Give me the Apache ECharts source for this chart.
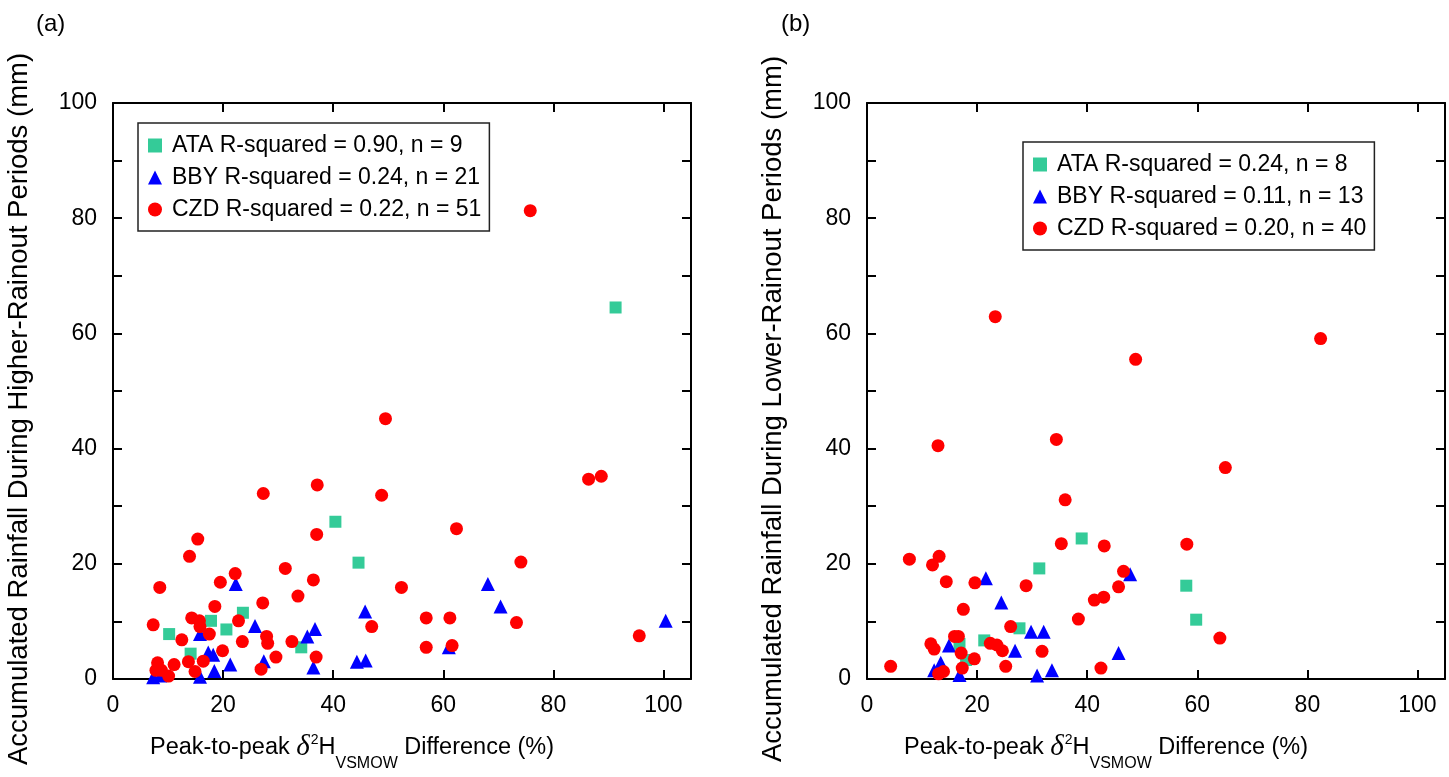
<!DOCTYPE html>
<html>
<head>
<meta charset="utf-8">
<script src="https://cdn.jsdelivr.net/npm/echarts@6/dist/echarts.min.js"></script>
<style>
  html, body { margin: 0; padding: 0; background: #fff; }
  #main { width: 1449px; height: 777px; }
</style>
</head>
<body>
<div id="main"></div>
<script>
// (a) higher-rainout periods: [peak-to-peak difference %, accumulated rainfall mm]
const ataHigher = [[40.4, 27.3], [44.6, 20.2], [23.6, 11.5], [17.8, 10.1], [20.6, 8.6], [10.2, 7.8], [14.1, 4.4], [34.2, 5.5], [91.3, 64.5]];
const bbyHigher = [[22.3, 16.5], [45.8, 11.7], [25.8, 9.2], [36.7, 8.7], [35.3, 7.4], [15.8, 7.8], [17.3, 4.6], [18.2, 4.2],
    [21.3, 2.5], [27.4, 3.1], [18.4, 1.4], [36.4, 2.0], [44.3, 3.0], [45.9, 3.2], [7.3, 0.3], [15.8, 0.4],
    [68.1, 16.5], [70.4, 12.6], [100.4, 10.1], [61.0, 5.5], [8.6, 0.6]];
const czdHigher = [[75.8, 81.3], [49.5, 45.2], [27.3, 32.2], [37.1, 33.7], [48.8, 31.9], [37.0, 25.1], [15.4, 24.3], [13.9, 21.3],
    [31.3, 19.2], [22.2, 18.3], [19.5, 16.8], [8.5, 15.9], [36.4, 17.2], [52.4, 15.9], [33.6, 14.4], [27.2, 13.2],
    [18.5, 12.6], [7.3, 9.4], [14.3, 10.6], [15.7, 10.1], [15.8, 9.1], [22.8, 10.1], [17.5, 7.8], [47.0, 9.1],
    [12.5, 6.8], [23.5, 6.5], [27.9, 7.4], [28.1, 6.2], [32.5, 6.5], [19.9, 4.9], [16.4, 3.1], [13.7, 3.0],
    [11.1, 2.5], [8.1, 2.8], [29.6, 3.8], [36.9, 3.8], [26.9, 1.7], [14.9, 1.3], [7.8, 1.5], [8.8, 1.5],
    [10.1, 0.5], [86.4, 34.7], [88.7, 35.2], [62.4, 26.1], [74.1, 20.3], [56.9, 10.6], [61.2, 10.6], [73.3, 9.8],
    [56.9, 5.5], [61.6, 5.8], [95.6, 7.5]];

// (b) lower-rainout periods
const ataLower = [[39.0, 24.4], [31.3, 19.2], [27.7, 8.8], [21.3, 6.7], [16.8, 6.1], [18.0, 3.3], [58.0, 16.2], [59.8, 10.3]];
const bbyLower = [[21.6, 17.5], [24.4, 13.3], [47.8, 18.2], [29.8, 8.2], [32.1, 8.2], [26.9, 4.9], [14.9, 5.8], [45.7, 4.5],
    [13.4, 2.8], [33.6, 1.5], [12.2, 1.5], [30.9, 0.6], [16.8, 0.7]];
const czdLower = [[23.3, 62.9], [48.8, 55.5], [12.9, 40.5], [34.4, 41.6], [36.0, 31.1], [35.3, 23.5], [7.7, 20.8], [13.1, 21.3],
    [11.9, 19.8], [43.1, 23.1], [46.6, 18.7], [14.4, 16.9], [19.6, 16.7], [28.9, 16.2], [17.5, 12.1], [41.3, 13.7],
    [43.0, 14.2], [45.7, 16.0], [38.4, 10.4], [26.1, 9.1], [15.9, 7.4], [16.6, 7.4], [11.6, 6.1], [12.2, 5.2],
    [22.4, 6.2], [23.6, 5.9], [24.6, 4.9], [31.8, 4.8], [17.1, 4.5], [19.5, 3.5], [4.3, 2.2], [25.2, 2.2],
    [17.3, 1.9], [42.5, 1.9], [13.0, 0.9], [13.9, 1.3], [82.4, 59.1], [65.1, 36.7], [58.1, 23.4], [64.1, 7.1]];

const namesHigher = ['ATA R-squared = 0.90, n = 9', 'BBY R-squared = 0.24, n = 21', 'CZD R-squared = 0.22, n = 51'];
const namesLower = ['ATA R-squared = 0.24, n = 8', 'BBY R-squared = 0.11, n = 13', 'CZD R-squared = 0.20, n = 40'];
const yNames = ['Accumulated Rainfall During Higher-Rainout Periods (mm)', 'Accumulated Rainfall During Lower-Rainout Periods (mm)'];
const xName = 'Peak-to-peak {d|δ}{sup|2}H{sub|VSMOW} Difference (%)';

const FONT = 'Liberation Sans, Arial, Helvetica, sans-serif';
const ATA_COLOR = '#34cb98';
const BBY_COLOR = '#0000ff';
const CZD_COLOR = '#ff0000';

var myChart = echarts.init(document.getElementById('main'), null, { renderer: 'canvas' });

const tick = { show: true, inside: true, length: 9, lineStyle: { color: '#000', width: 2 } };
const line = { show: true, onZero: false, lineStyle: { color: '#000', width: 2 } };

function xAxisFor(grid, top) {
    return {
        type: 'value', gridIndex: grid, position: top ? 'top' : 'bottom',
        min: 0, max: 105, interval: 20,
        axisLine: line, axisTick: tick, splitLine: { show: false },
        axisLabel: {
            show: !top, margin: 15, color: '#000', fontSize: 23, fontFamily: FONT,
            formatter: function (v) { return v % 20 === 0 ? String(v) : ''; }
        },
        name: top ? '' : xName,
        nameLocation: 'middle',
        nameGap: 44,
        nameTextStyle: {
            color: '#000', fontSize: 23.5, fontFamily: FONT, padding: [0, 100, 0, 0],
            rich: {
                d: { fontFamily: 'Liberation Serif, DejaVu Serif, serif', fontStyle: 'italic', fontSize: 29, color: '#000' },
                sup: { fontSize: 14, fontFamily: FONT, color: '#000', padding: [0, 0, 14, 1] },
                sub: { fontSize: 16, fontFamily: FONT, color: '#000', padding: [33, 0, 0, 0] }
            }
        }
    };
}

function yAxisFor(grid, right, name) {
    return {
        type: 'value', gridIndex: grid, position: right ? 'right' : 'left',
        min: 0, max: 100, interval: 20,
        axisLine: line, axisTick: tick,
        minorTick: { show: true, splitNumber: 2, length: 9, lineStyle: { color: '#000', width: 2 } },
        splitLine: { show: false }, minorSplitLine: { show: false },
        axisLabel: { show: !right, margin: 16, color: '#000', fontSize: 23, fontFamily: FONT },
        name: right ? '' : name,
        nameLocation: 'middle',
        nameGap: 80,
        nameTextStyle: { color: '#000', fontSize: 27.5, fontFamily: FONT, padding: [0, 36, 0, 0] }
    };
}

function legendFor(names, left, top) {
    return {
        data: names,
        orient: 'vertical',
        left: left, top: top,
        itemWidth: 14, itemHeight: 14, itemGap: 9,
        padding: [11, 8, 10, 10],
        borderColor: '#222', borderWidth: 1.5, borderRadius: 0,
        backgroundColor: '#fff',
        textStyle: { color: '#000', fontSize: 23, fontFamily: FONT, lineHeight: 23, padding: [0, 0, 0, 5] },
        selectedMode: false
    };
}

function scatter(name, data, xi, symbol, size, color) {
    return {
        type: 'scatter', name: name, data: data,
        xAxisIndex: xi, yAxisIndex: xi,
        symbol: symbol, symbolSize: size,
        itemStyle: { color: color, opacity: 1 },
        emphasis: { disabled: true }
    };
}

option = {
    animation: false,
    backgroundColor: '#fff',
    title: [
        { text: '(a)', left: 31, top: 7, textStyle: { color: '#000', fontSize: 24, fontWeight: 'normal', fontFamily: FONT } },
        { text: '(b)', left: 776, top: 7, textStyle: { color: '#000', fontSize: 24, fontWeight: 'normal', fontFamily: FONT } }
    ],
    grid: [
        { left: 113, top: 103, width: 578, height: 578 },
        { left: 867, top: 103, width: 578, height: 578 }
    ],
    legend: [
        legendFor(namesHigher, 138, 123),
        legendFor(namesLower, 1023, 142)
    ],
    xAxis: [xAxisFor(0, false), xAxisFor(0, true), xAxisFor(1, false), xAxisFor(1, true)],
    yAxis: [yAxisFor(0, false, yNames[0]), yAxisFor(0, true), yAxisFor(1, false, yNames[1]), yAxisFor(1, true)],
    series: [
        scatter(namesHigher[0], ataHigher, 0, 'rect', 12, ATA_COLOR),
        scatter(namesHigher[1], bbyHigher, 0, 'triangle', 14, BBY_COLOR),
        scatter(namesHigher[2], czdHigher, 0, 'circle', 13, CZD_COLOR),
        scatter(namesLower[0], ataLower, 2, 'rect', 12, ATA_COLOR),
        scatter(namesLower[1], bbyLower, 2, 'triangle', 14, BBY_COLOR),
        scatter(namesLower[2], czdLower, 2, 'circle', 13, CZD_COLOR)
    ]
};
option && myChart.setOption(option);
</script>
</body>
</html>
